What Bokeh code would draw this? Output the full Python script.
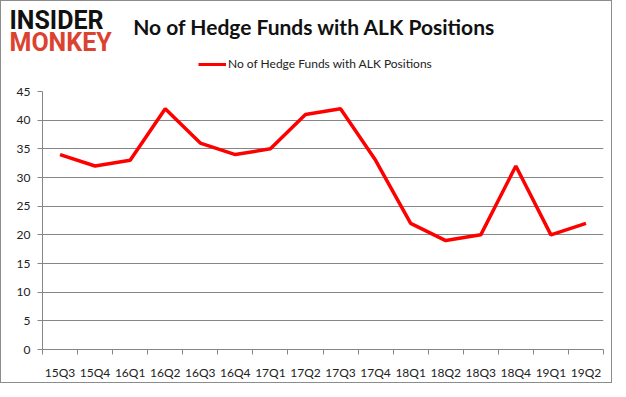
from bokeh.plotting import figure
from bokeh.layouts import column
from bokeh.models import FixedTicker, Range1d, Legend, LegendItem
from bokeh.core.properties import value
from bokeh.embed import file_html
from bokeh.resources import INLINE

quarters = ["15Q3", "15Q4", "16Q1", "16Q2", "16Q3", "16Q4", "17Q1", "17Q2",
            "17Q3", "17Q4", "18Q1", "18Q2", "18Q3", "18Q4", "19Q1", "19Q2"]
hedge_funds = [34, 32, 33, 42, 36, 34, 35, 41, 42, 33, 22, 19, 20, 32, 20, 22]
y_ticks = [0, 5, 10, 15, 20, 25, 30, 35, 40, 45]
series_name = "No of Hedge Funds with ALK Positions"
title_text = "No of Hedge Funds with ALK Positions"
logo_top = "INSIDER"
logo_bottom = "MONKEY"

FONT = "Lato"
GRAY = "#868686"
RED = "#ff0000"
W = 610
HEADER_H = 75
CHART_H = 306

# ---------- header (logo, title, legend) ----------
hdr = figure(width=W, height=HEADER_H, output_backend="svg", toolbar_location=None,
             x_range=Range1d(0, W), y_range=Range1d(HEADER_H, 0),
             x_axis_location=None, y_axis_location=None,
             min_border=0)
hdr.frame_align = False
hdr.grid.visible = False
hdr.outline_line_color = None
hdr.background_fill_color = "white"
hdr.border_fill_color = "white"

hdr.text(x=[8], y=[19], text=[logo_top], text_font=value("Roboto"),
         text_font_size="25px", text_font_style="bold", text_color="#111111",
         text_baseline="middle", text_align="left")
hdr.text(x=[8], y=[41], text=[logo_bottom], text_font=value("Roboto"),
         text_font_size="25px", text_font_style="bold", text_color="#dc4230",
         text_baseline="middle", text_align="left")
hdr.text(x=[313], y=[25], text=[title_text], text_font=value(FONT),
         text_font_size="21px", text_font_style="bold", text_color="#111111",
         text_baseline="middle", text_align="center")

# legend proxy: same style as the data line, kept outside the header's view
legend_line = hdr.line(x=[-50, -40], y=[-50, -50], line_color=RED, line_width=3)
legend = Legend(items=[LegendItem(label=series_name, renderers=[legend_line])],
                location=(197, 5), orientation="horizontal",
                border_line_color=None, background_fill_alpha=0,
                label_text_font=FONT, label_text_font_size="12px",
                label_text_color="#222222", glyph_width=28, glyph_height=14,
                label_standoff=2, padding=0, margin=0, label_height=14)
hdr.add_layout(legend, "center")

# ---------- chart ----------
xs = [i + 0.5 for i in range(len(quarters))]

p = figure(width=W, height=CHART_H, output_backend="svg", toolbar_location=None,
           x_range=Range1d(0, len(quarters)), y_range=Range1d(0, 45),
           min_border_left=41, min_border_right=8, min_border_top=15,
           min_border_bottom=30)
p.frame_align = False
p.outline_line_color = None
p.background_fill_color = "white"
p.border_fill_color = "white"

p.line(xs, hedge_funds, line_color=RED, line_width=3.5)

xt = FixedTicker(ticks=xs, minor_ticks=list(range(len(quarters) + 1)))
p.xaxis.ticker = xt
p.xaxis.major_label_overrides = {x: q for x, q in zip(xs, quarters)}
p.xaxis.major_tick_in = 0
p.xaxis.major_tick_out = 0
p.xaxis.minor_tick_in = 0
p.xaxis.minor_tick_out = 5
p.xaxis.minor_tick_line_color = GRAY
p.xaxis.axis_line_color = GRAY
p.xaxis.major_label_standoff = 10
p.xaxis.major_label_text_font = FONT
p.xaxis.major_label_text_font_size = "12px"
p.xaxis.major_label_text_color = "#222222"
p.xgrid.visible = False

p.yaxis.ticker = FixedTicker(ticks=y_ticks)
p.yaxis.minor_tick_line_color = None
p.yaxis.major_tick_in = 0
p.yaxis.major_tick_out = 5
p.yaxis.major_tick_line_color = GRAY
p.yaxis.axis_line_color = GRAY
p.yaxis.major_label_standoff = 7
p.yaxis.major_label_text_font = FONT
p.yaxis.major_label_text_font_size = "12px"
p.yaxis.major_label_text_color = "#222222"
p.ygrid.grid_line_color = GRAY
p.ygrid.grid_line_width = 1

page = column(hdr, p, spacing=0, styles={"border": "1px solid #8c8c8c"})

open("out.html", "w").write(file_html(page, INLINE))
